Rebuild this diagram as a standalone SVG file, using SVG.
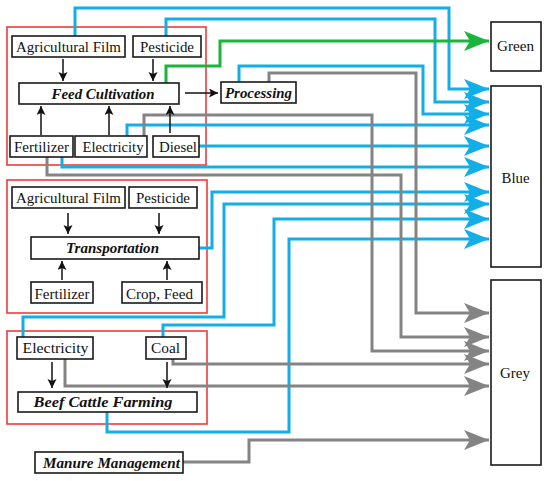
<svg xmlns="http://www.w3.org/2000/svg" width="550" height="481" viewBox="0 0 550 481">
<style>
.box{fill:#fff;stroke:#1a1a1a;stroke-width:1.6}
.frame{fill:none;stroke:#f03a3a;stroke-width:1.6}
.t{font-size:14px;fill:#111;text-anchor:middle}
.bi{font-weight:bold;font-style:italic}
.blue{fill:none;stroke:#12aee8;stroke-width:3;marker-end:url(#ab)}
.grey{fill:none;stroke:#848484;stroke-width:3;marker-end:url(#ag)}
.green{fill:none;stroke:#1cb53b;stroke-width:3;marker-end:url(#agr)}
.blk{fill:none;stroke:#111;stroke-width:1.5;marker-end:url(#ak)}
</style>
<defs>
<marker id="ab" markerUnits="userSpaceOnUse" markerWidth="26" markerHeight="22" refX="25" refY="10" orient="auto" viewBox="0 0 26 22"><path d="M0,0 L25,10 L0,20 L6,10 z" fill="#12aee8"/></marker>
<marker id="ag" markerUnits="userSpaceOnUse" markerWidth="26" markerHeight="22" refX="25" refY="10" orient="auto" viewBox="0 0 26 22"><path d="M0,0 L25,10 L0,20 L6,10 z" fill="#848484"/></marker>
<marker id="agr" markerUnits="userSpaceOnUse" markerWidth="26" markerHeight="22" refX="25" refY="10" orient="auto" viewBox="0 0 26 22"><path d="M0,0 L25,10 L0,20 L6,10 z" fill="#1cb53b"/></marker>
<marker id="ak" markerUnits="userSpaceOnUse" markerWidth="10" markerHeight="10" refX="9" refY="4.5" orient="auto" viewBox="0 0 10 10"><path d="M0,0 L9,4.5 L0,9 L2,4.5 z" fill="#111"/></marker>
</defs>
<rect width="550" height="481" fill="#fff"/>

<g id="frames">
<rect class="frame" x="7" y="27" width="199" height="138"/>
<rect class="frame" x="7" y="180" width="200" height="133"/>
<rect class="frame" x="7" y="331" width="200" height="93"/>
</g>

<g id="connectors">
<path class="blue" d="M75,36 V8 H449 V89 H489"/>
<path class="blue" d="M166,36 V19 H435 V102 H489"/>
<path class="blue" d="M239,82 V66 H423 V114 H489"/>
<path class="blue" d="M127,136 V125 H489"/>
<path class="blue" d="M199,146 H489"/>
<path class="blue" d="M62,157 V167 H489"/>
<path class="blue" d="M199,248 H212 V192 H489"/>
<path class="blue" d="M23,338 V317 H224 V204 H489"/>
<path class="blue" d="M163,338 V325 H274 V219 H489"/>
<path class="blue" d="M107,412 V432 H289 V239 H489"/>
<path class="green" d="M166,83 V66 H220 V41 H489"/>
<path class="grey" d="M269,82 V73 H416 V313 H489"/>
<path class="grey" d="M144,136 V115 H372 V351 H489"/>
<path class="grey" d="M47,157 V175 H401 V337 H489"/>
<path class="grey" d="M173,359 V364 H489"/>
<path class="grey" d="M65,359 V386 H489"/>
<path class="grey" d="M183,462 H249 V440 H489"/>
<path class="blk" d="M63,59 V81"/>
<path class="blk" d="M153,59 V81"/>
<path class="blk" d="M41,135 V106"/>
<path class="blk" d="M109,135 V106"/>
<path class="blk" d="M170,133 V106"/>
<path class="blk" d="M185,93 H218"/>
<path class="blk" d="M68,213 V234"/>
<path class="blk" d="M159,213 V234"/>
<path class="blk" d="M62,280 V261"/>
<path class="blk" d="M167,280 V261"/>
<path class="blk" d="M52,362 V388"/>
<path class="blk" d="M167,362 V388"/>
</g>

<g id="nodes" font-family="Liberation Serif, DejaVu Serif, serif">
<g id="fc-film"><rect class="box" x="12" y="36" width="113" height="21"/><text class="t" x="68.5" y="52" textLength="105" lengthAdjust="spacingAndGlyphs">Agricultural Film</text></g>
<g id="fc-pesticide"><rect class="box" x="133" y="36" width="68" height="21"/><text class="t" x="167" y="52" textLength="54" lengthAdjust="spacingAndGlyphs">Pesticide</text></g>
<g id="feed-cultivation"><rect class="box" x="19" y="83" width="160" height="21"/><text class="t bi" x="103" y="99" textLength="103" lengthAdjust="spacingAndGlyphs">Feed Cultivation</text></g>
<g id="processing"><rect class="box" x="221" y="82" width="75" height="21"/><text class="t bi" x="258.5" y="98" textLength="67" lengthAdjust="spacingAndGlyphs">Processing</text></g>
<g id="fc-fertilizer"><rect class="box" x="10" y="136" width="63" height="21"/><text class="t" x="41.5" y="152" textLength="55" lengthAdjust="spacingAndGlyphs">Fertilizer</text></g>
<g id="fc-electricity"><rect class="box" x="75" y="136" width="72" height="21"/><text class="t" x="113" y="152" textLength="61" lengthAdjust="spacingAndGlyphs">Electricity</text></g>
<g id="fc-diesel"><rect class="box" x="153" y="136" width="46" height="21"/><text class="t" x="178" y="152" textLength="38" lengthAdjust="spacingAndGlyphs">Diesel</text></g>

<g id="tr-film"><rect class="box" x="12" y="187" width="113" height="21"/><text class="t" x="68.5" y="203" textLength="105" lengthAdjust="spacingAndGlyphs">Agricultural Film</text></g>
<g id="tr-pesticide"><rect class="box" x="129" y="187" width="68" height="21"/><text class="t" x="163" y="203" textLength="54" lengthAdjust="spacingAndGlyphs">Pesticide</text></g>
<g id="transportation"><rect class="box" x="31" y="237" width="168" height="22"/><text class="t bi" x="112.5" y="253" textLength="93" lengthAdjust="spacingAndGlyphs">Transportation</text></g>
<g id="tr-fertilizer"><rect class="box" x="31" y="282" width="62" height="21"/><text class="t" x="62" y="299" textLength="55" lengthAdjust="spacingAndGlyphs">Fertilizer</text></g>
<g id="tr-crop"><rect class="box" x="122" y="282" width="80" height="21"/><text class="t" x="159.5" y="299" textLength="67" lengthAdjust="spacingAndGlyphs">Crop, Feed</text></g>

<g id="bc-electricity"><rect class="box" x="17" y="337" width="76" height="22"/><text class="t" x="55.5" y="353" textLength="66" lengthAdjust="spacingAndGlyphs">Electricity</text></g>
<g id="bc-coal"><rect class="box" x="146" y="337" width="40" height="22"/><text class="t" x="165.5" y="353" textLength="29" lengthAdjust="spacingAndGlyphs">Coal</text></g>
<g id="beef-farming"><rect class="box" x="18" y="392" width="179" height="20"/><text class="t bi" x="103" y="407" textLength="139" lengthAdjust="spacingAndGlyphs">Beef Cattle Farming</text></g>
<g id="manure"><rect class="box" x="35" y="452" width="148" height="21"/><text class="t bi" x="111.5" y="468" textLength="137" lengthAdjust="spacingAndGlyphs">Manure Management</text></g>

<g id="green"><rect class="box" x="491" y="22" width="50" height="49"/><text class="t" x="515.5" y="51" textLength="37" lengthAdjust="spacingAndGlyphs">Green</text></g>
<g id="blue"><rect class="box" x="491" y="86" width="50" height="181"/><text class="t" x="515.5" y="183" textLength="28" lengthAdjust="spacingAndGlyphs">Blue</text></g>
<g id="grey"><rect class="box" x="491" y="280" width="50" height="185"/><text class="t" x="515" y="378" textLength="30" lengthAdjust="spacingAndGlyphs">Grey</text></g>
</g>
</svg>
